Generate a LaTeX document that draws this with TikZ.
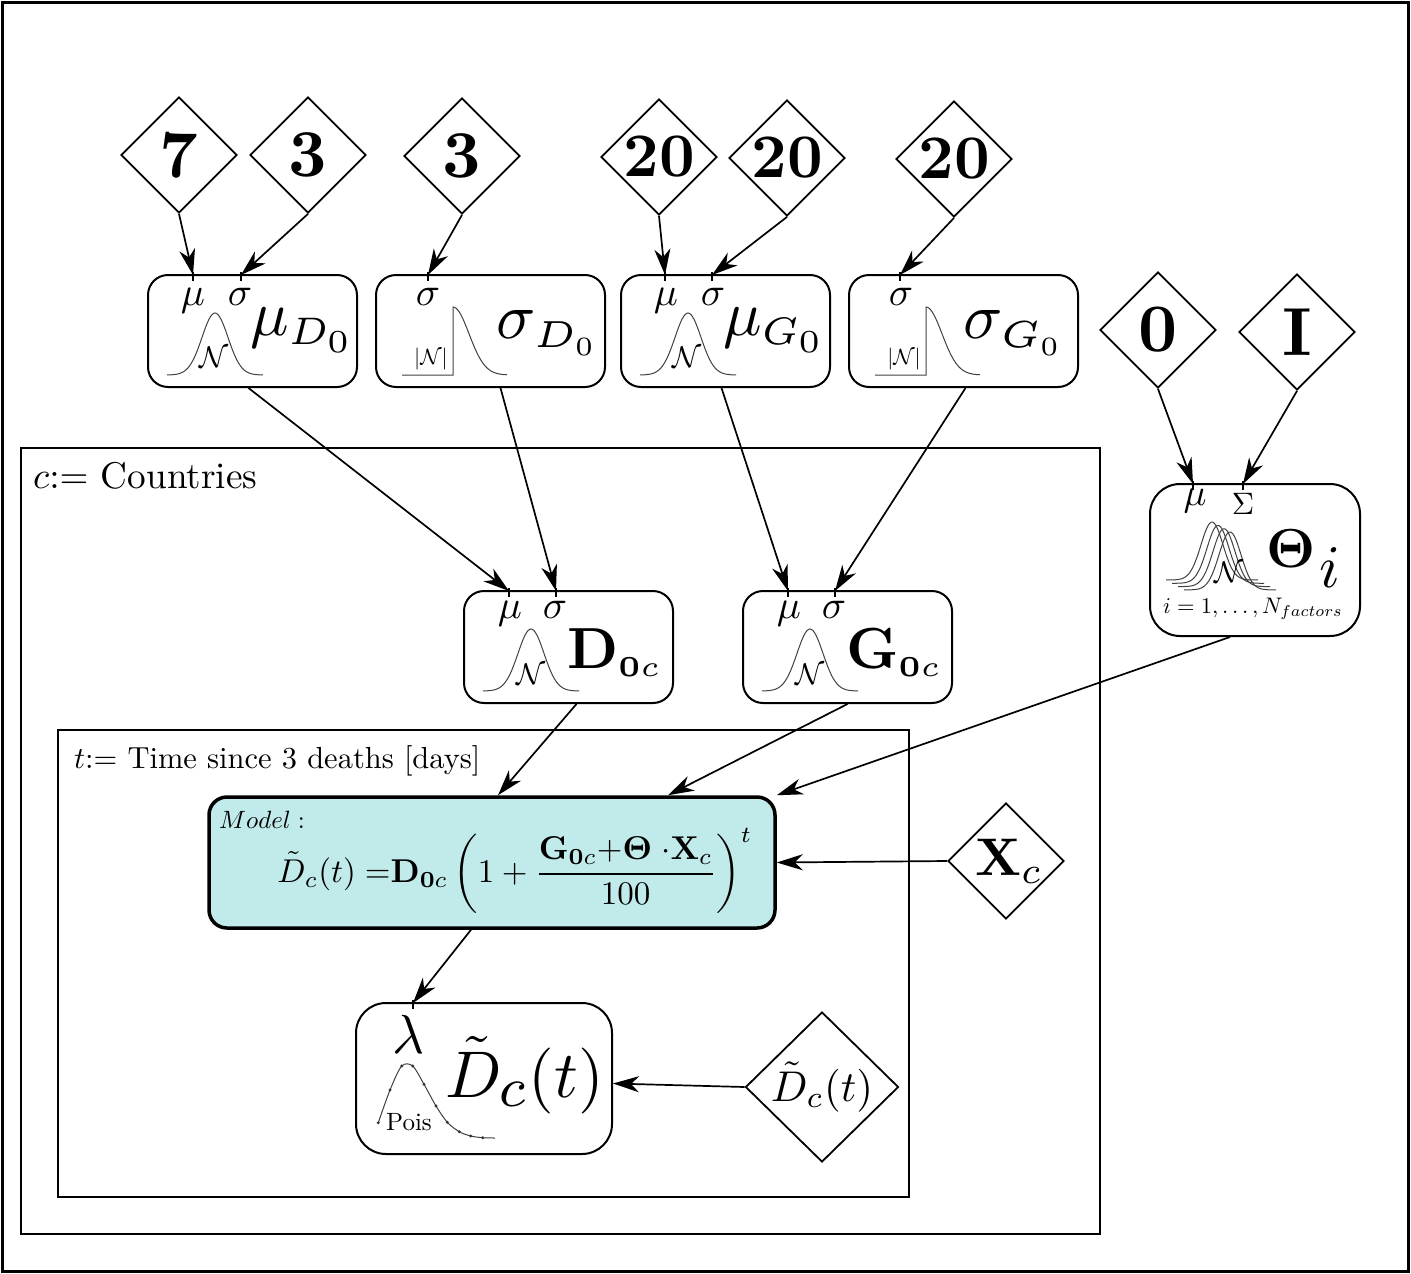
\RequirePackage{fix-cm}
\documentclass[tikz,border=0pt]{standalone}
\usepackage{amsmath}
\usepackage{graphicx}
\usetikzlibrary{shapes.geometric,arrows.meta}
\definecolor{modelfill}{RGB}{193,235,234}
\newcommand\T[2]{\scalebox{#1}{\fontsize{10}{12}\selectfont #2}}
\newcommand\subsz[2]{\mbox{\fontsize{#1}{#1}\selectfont$#2$}}
\newcommand\gaussAt[2]{\draw[crv] plot[domain=-48:48,samples=61,smooth] ({#1+\x},{#2-62*exp(-(\x*\x)/338)});}
\newcommand\halfAt[2]{\draw[crv] ({#1-51},{#2}) -- ({#1},{#2}) -- ({#1},{#2-68}) -- plot[domain=0:54,samples=40,smooth] ({#1+\x},{#2-68*exp(-(\x*\x)/512)});}
\tikzset{
  pbox/.style={draw, line width=2pt, rounded corners=20pt, inner sep=0pt},
  diam/.style={diamond, draw, line width=1.8pt, inner sep=0pt, minimum width=116pt, minimum height=116pt},
  arr/.style={line width=1.7pt, -{Stealth[length=26pt,width=16pt,inset=8pt]}},
  tk/.style={line width=1.5pt},
  crv/.style={line width=1pt, black!75},
  plate/.style={draw, line width=1.5pt, inner sep=0pt},
  txt/.style={inner sep=0pt}
}
\begin{document}
\begin{tikzpicture}[x=1pt,y=-1pt]
\useasboundingbox (0,0) rectangle (1411,1274);
\draw[line width=3pt] (2.5,2.5) rectangle (1408.5,1271.5);

% plates
\node[plate, minimum width=1079pt, minimum height=786pt] (cplate) at (560.5,841) {};
\node[plate, minimum width=851pt, minimum height=467pt] (tplate) at (483.5,963.5) {};
\node[txt, anchor=base west] (clab) at (33,488) {\T{3.72}{$c{:=}$ Countries}};
\node[txt, anchor=base west] (tlab) at (74,768) {\T{3.05}{$t{:=}$ Time since 3 deaths [days]}};

% diamonds
\node[diam] (d7) at (179,155) {\makebox[0pt]{\T{6.7}{\bfseries 7}}};
\node[diam] (d3a) at (308,155) {\makebox[0pt]{\T{6.7}{\bfseries 3}}};
\node[diam] (d3b) at (462,156) {\makebox[0pt]{\T{6.7}{\bfseries 3}}};
\node[diam] (d20a) at (659,157) {\makebox[0pt]{\T{6.2}{\bfseries 20}}};
\node[diam] (d20b) at (787,158) {\makebox[0pt]{\T{6.2}{\bfseries 20}}};
\node[diam] (d20c) at (954,159) {\makebox[0pt]{\T{6.2}{\bfseries 20}}};
\node[diam] (d0) at (1158,330) {\makebox[0pt]{\T{6.8}{$\mathbf{0}$}}};
\node[diam] (dI) at (1297,332) {\makebox[0pt]{\T{6.8}{$\mathbf{I}$}}};
\node[diam] (dX) at (1006,861) {\makebox[0pt]{\hspace*{6pt}\T{5.3}{$\mathbf{X}_c$}}};
\node[diam, minimum width=153pt, minimum height=150pt] (dD) at (822,1087) {\makebox[0pt]{\T{4.3}{$\tilde{D}_c(t)$}}};

% parameter boxes
\node[pbox, minimum width=209pt, minimum height=112pt] (muD0) at (252.5,331) {};
\node[pbox, minimum width=229pt, minimum height=112pt] (sigD0) at (490.5,331) {};
\node[pbox, minimum width=209pt, minimum height=112pt] (muG0) at (725.5,331) {};
\node[pbox, minimum width=229pt, minimum height=112pt] (sigG0) at (963.5,331) {};
\node[pbox, rounded corners=30pt, minimum width=210pt, minimum height=152pt] (theta) at (1255,560) {};
\node[pbox, minimum width=209pt, minimum height=112pt] (D0c) at (568.5,647) {};
\node[pbox, minimum width=209pt, minimum height=112pt] (G0c) at (847.5,647) {};
\node[pbox, line width=3.5pt, rounded corners=18pt, fill=modelfill, minimum width=566pt, minimum height=131pt] (model) at (492,862.5) {};
\node[pbox, rounded corners=30pt, minimum width=256pt, minimum height=151pt] (Dt) at (484,1078.5) {};

% muD0 contents
\node[txt, anchor=base] (muD0a) at (193,305) {\T{4.0}{$\mu$}};
\node[txt, anchor=base] (muD0b) at (240,305) {\T{4.0}{$\sigma$}};
\gaussAt{215}{375}
\node[txt, anchor=base] (muD0n) at (214,367) {\T{3.0}{$\mathcal{N}$}};
\node[txt, anchor=base west] (muD0l) at (250,335) {\T{6.4}{$\mu_{\subsz{6}{D_0}}$}};

% sigD0 contents
\node[txt, anchor=base] (sigD0b) at (428,305) {\T{4.0}{$\sigma$}};
\halfAt{453}{375}
\node[txt, anchor=base] (sigD0n) at (431,364.5) {\T{2.2}{$|\mathcal{N}|$}};
\node[txt, anchor=base west] (sigD0l) at (496,338) {\T{6.5}{$\sigma_{\subsz{5.8}{D_0}}$}};

% muG0 contents
\node[txt, anchor=base] (muG0a) at (666,305) {\T{4.0}{$\mu$}};
\node[txt, anchor=base] (muG0b) at (713,305) {\T{4.0}{$\sigma$}};
\gaussAt{688}{375}
\node[txt, anchor=base] (muG0n) at (687,367) {\T{3.0}{$\mathcal{N}$}};
\node[txt, anchor=base west] (muG0l) at (723,335) {\T{6.4}{$\mu_{\subsz{6}{G_0}}$}};

% sigG0 contents
\node[txt, anchor=base] (sigG0b) at (901,305) {\T{4.0}{$\sigma$}};
\halfAt{926}{375}
\node[txt, anchor=base] (sigG0n) at (904,364.5) {\T{2.2}{$|\mathcal{N}|$}};
\node[txt, anchor=base west] (sigG0l) at (963,338) {\T{6.5}{$\sigma_{\subsz{5.8}{G_0}}$}};

% theta contents
\node[txt, anchor=base] (tha) at (1195,505) {\T{3.8}{$\mu$}};
\node[txt, anchor=base] (thb) at (1243,514) {\T{3.1}{$\Sigma$}};
\foreach \k in {0,1,2,3}
  \draw[crv] plot[domain=-46:46,samples=50,smooth] ({1212+6*\k+\x},{580+3.3*\k-58*exp(-(\x*\x)/242)});
\node[txt, anchor=base] (thn) at (1229,582) {\T{3.0}{$\mathcal{N}$}};
\node[txt, anchor=base west] (thl) at (1266,567) {\T{5.5}{$\mathbf{\Theta}_{\kern0.8pt\subsz{11}{i}}$}};
\node[txt, anchor=base] (thi) at (1253,613) {\T{2.25}{$i=1,\ldots,N_{factors}$}};

% D0c contents
\node[txt, anchor=base] (D0ca) at (510,618) {\T{4.0}{$\mu$}};
\node[txt, anchor=base] (D0cb) at (555,618) {\T{4.0}{$\sigma$}};
\gaussAt{531}{691}
\node[txt, anchor=base] (D0cn) at (531,684) {\T{3.0}{$\mathcal{N}$}};
\node[txt, anchor=base west] (D0cl) at (567,668) {\T{5.8}{$\mathbf{D}_{\subsz{5}{\mathbf{0}c}}$}};

% G0c contents
\node[txt, anchor=base] (G0ca) at (789,618) {\T{4.0}{$\mu$}};
\node[txt, anchor=base] (G0cb) at (834,618) {\T{4.0}{$\sigma$}};
\gaussAt{810}{691}
\node[txt, anchor=base] (G0cn) at (810,684) {\T{3.0}{$\mathcal{N}$}};
\node[txt, anchor=base west] (G0cl) at (846,668) {\T{5.8}{$\mathbf{G}_{\subsz{5}{\mathbf{0}c}}$}};

% model contents
\node[txt, anchor=base west] (modlab) at (219,828) {\T{2.5}{$Model:$}};
\node[txt] (modeq) at (515,871) {\T{3.3}{$\displaystyle \tilde{D}_c(t)\;{=}\mathbf{D}_{\mathbf{0}c}\left(1+\frac{\mathbf{G}_{\mathbf{0}c}{+}\mathbf{\Theta}\;{\cdot}\mathbf{X}_c}{100}\right)^{t}$}};

% Dt contents
\node[txt, anchor=base] (Dtlam) at (409,1053) {\T{5.5}{$\lambda$}};
\draw[crv] plot[smooth] coordinates {(378.3,1122.7) (390,1090) (401.7,1066) (412.7,1066) (424,1084.3) (436,1106) (447.3,1122.3) (459.3,1131.7) (470.7,1136) (482.7,1137.7) (495,1138)};
\foreach \p in {(378.3,1122.7),(390,1090),(401.7,1066),(412.7,1066),(424,1084.3),(436,1106),(447.3,1122.3),(459.3,1131.7),(470.7,1136),(482.7,1137.7)}
  \fill[black!80] \p circle (1.6);
\node[txt, anchor=base west] (Dtpois) at (386,1130) {\T{2.5}{Pois}};
\node[txt, anchor=base west] (Dtl) at (445,1097) {\T{6.6}{$\tilde{D}_{\subsz{8.5}{c}}(t)$}};

% parameter anchor points
\coordinate (muD0-mu) at (193,275);
\coordinate (muD0-sig) at (241,275);
\coordinate (sigD0-sig) at (428,275);
\coordinate (muG0-mu) at (665,275);
\coordinate (muG0-sig) at (712,275);
\coordinate (sigG0-sig) at (900,275);
\coordinate (theta-mu) at (1193,484);
\coordinate (theta-sig) at (1243,484);
\coordinate (D0c-mu) at (509,591);
\coordinate (D0c-sig) at (556,591);
\coordinate (G0c-mu) at (788,591);
\coordinate (G0c-sig) at (835,591);
\coordinate (Dt-lam) at (413,1003);
\foreach \c in {muD0-mu,muD0-sig,sigD0-sig,muG0-mu,muG0-sig,sigG0-sig,theta-mu,theta-sig,D0c-mu,D0c-sig,G0c-mu,G0c-sig,Dt-lam}
  \draw[tk] ([yshift=3pt]\c) -- ++(0,9);

% arrows
\draw[arr] (d7.south) -- (muD0-mu);
\draw[arr] (d3a.south) -- (muD0-sig);
\draw[arr] (d3b.south) -- (sigD0-sig);
\draw[arr] (d20a.south) -- (muG0-mu);
\draw[arr] (d20b.south) -- (muG0-sig);
\draw[arr] (d20c.south) -- (sigG0-sig);
\draw[arr] (d0.south) -- (theta-mu);
\draw[arr] (dI.south) -- (theta-sig);
\draw[arr] ([xshift=-4pt]muD0.south) -- (D0c-mu);
\draw[arr] ([xshift=10pt]sigD0.south) -- (D0c-sig);
\draw[arr] ([xshift=-4pt]muG0.south) -- (G0c-mu);
\draw[arr] ([xshift=2pt]sigG0.south) -- (G0c-sig);
\draw[arr] ([xshift=8pt]D0c.south) -- ([xshift=6pt]model.north);
\draw[arr] (G0c.south) -- ([xshift=176pt]model.north);
\draw[arr] ([xshift=-25pt]theta.south) -- (model.north east);
\draw[arr] (dX.west) -- (model.east);
\draw[arr] ([xshift=-21pt]model.south) -- (Dt-lam);
\draw[arr] (dD.west) -- ([yshift=-5pt]Dt.east);
\end{tikzpicture}
\end{document}
